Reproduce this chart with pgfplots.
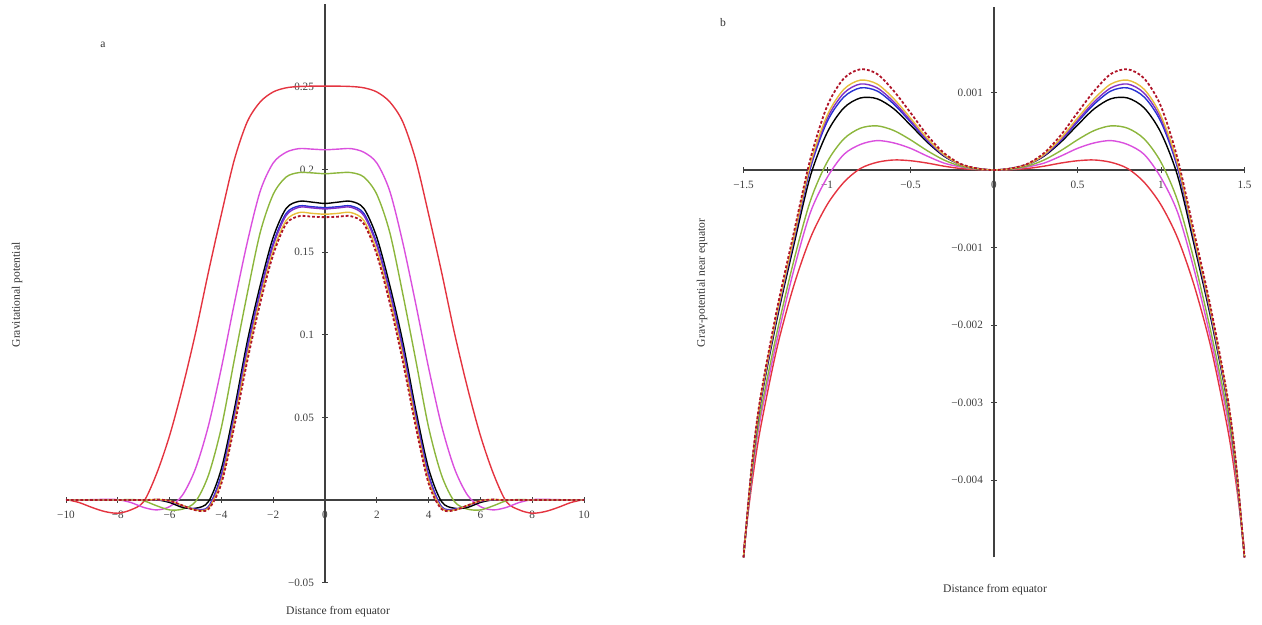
\documentclass[border=0pt]{standalone}
\usepackage{fontspec}
\setmainfont{Liberation Serif}
\usepackage{pgfplots}
\pgfplotsset{compat=1.18}

\definecolor{mred}{RGB}{228,52,64}
\definecolor{mmag}{RGB}{218,80,222}
\definecolor{mgreen}{RGB}{140,182,60}
\definecolor{mblue}{RGB}{40,50,210}
\definecolor{mpurple}{RGB}{128,48,200}
\definecolor{myellow}{RGB}{232,190,60}
\definecolor{mdash}{RGB}{176,20,40}

\pgfplotsset{
  maple/.style={
    scale only axis, axis lines=middle, clip=false,
    axis line style={-, black!75, line width=0.6pt},
    tick style={black!75, line width=0.5pt},
    major tick length=3pt, xtick align=center, ytick align=center,
    hide obscured x ticks=false, hide obscured y ticks=false,
    tick label style={font=\fontsize{5.6}{6}\selectfont, text=black!75},
    xticklabel style={anchor=north, yshift=-0.5pt},
    yticklabel style={anchor=east, xshift=-0.5pt},
    scaled ticks=false,
  },
  crv/.style={line width=0.7pt, smooth, no marks},
}

\begin{document}
\begin{tikzpicture}
\path[use as bounding box] (0,0) rectangle (631pt,312.5pt);

% panel a
\begin{axis}[maple, at={(33pt,21.2pt)}, anchor=south west,
  width=259pt, height=289.1pt,
  xmin=-10, xmax=10, ymin=-0.05, ymax=0.30,
  xtick={-10,-8,...,10}, xticklabels={−10,−8,−6,−4,−2,0,2,4,6,8,10},
  ytick={-0.05,0.05,0.1,0.15,0.2,0.25}, yticklabels={−0.05,0.05,0.1,0.15,0.2,0.25}]
\addplot[crv, mred] coordinates {(-10,.0003)(-9.5,-.0015)(-9,-.0045)(-8.5,-.0070)(-8,-.0080)(-7.5,-.0060)(-7,-.0010)(-6.5,.0160)(-6,.0390)(-5.5,.0680)(-5,.1010)(-4.5,.1380)(-4,.1730)(-3.5,.2060)(-3,.2290)(-2.5,.2410)(-2,.2470)(-1.5,.2495)(-1,.2503)(-0.5,.2505)(0,.2505)(0.5,.2505)(1,.2503)(1.5,.2495)(2,.2470)(2.5,.2410)(3,.2290)(3.5,.2060)(4,.1730)(4.5,.1380)(5,.1010)(5.5,.0680)(6,.0390)(6.5,.0160)(7,-.0010)(7.5,-.0060)(8,-.0080)(8.5,-.0070)(9,-.0045)(9.5,-.0015)(10,.0003)};
\addplot[crv, mmag] coordinates {(-10,0)(-9,.0002)(-8.5,.0004)(-8,.0002)(-7.5,-.0015)(-7,-.0045)(-6.5,-.0060)(-6,-.0040)(-5.5,.0030)(-5,.0190)(-4.5,.0450)(-4,.0800)(-3.5,.1190)(-3,.1560)(-2.5,.1870)(-2,.2040)(-1.5,.2105)(-1,.2127)(-0.5,.2124)(0,.2120)(0.5,.2124)(1,.2127)(1.5,.2105)(2,.2040)(2.5,.1870)(3,.1560)(3.5,.1190)(4,.0800)(4.5,.0450)(5,.0190)(5.5,.0030)(6,-.0040)(6.5,-.0060)(7,-.0045)(7.5,-.0015)(8,.0002)(8.5,.0004)(9,.0002)(10,0)};
\addplot[crv, mgreen] coordinates {(-10,0)(-8,.0001)(-7.5,.0003)(-7,-.0005)(-6.5,-.0035)(-6,-.0060)(-5.5,-.0055)(-5,-.0010)(-4.5,.0150)(-4,.0440)(-3.5,.0850)(-3,.1250)(-2.5,.1620)(-2,.1850)(-1.5,.1955)(-1,.1982)(-0.5,.1980)(0,.1975)(0.5,.1980)(1,.1982)(1.5,.1955)(2,.1850)(2.5,.1620)(3,.1250)(3.5,.0850)(4,.0440)(4.5,.0150)(5,-.0010)(5.5,-.0055)(6,-.0060)(6.5,-.0035)(7,-.0005)(7.5,.0003)(8,.0001)(10,0)};
\addplot[crv, black] coordinates {(-10,0)(-7,0)(-6.5,.0001)(-6,-.0015)(-5.5,-.0045)(-5,-.0050)(-4.5,-.0010)(-4,.0190)(-3.5,.0550)(-3,.0960)(-2.5,.1300)(-2,.1590)(-1.5,.1765)(-1,.1808)(-0.5,.1803)(0,.1795)(0.5,.1803)(1,.1808)(1.5,.1765)(2,.1590)(2.5,.1300)(3,.0960)(3.5,.0550)(4,.0190)(4.5,-.0010)(5,-.0050)(5.5,-.0045)(6,-.0015)(6.5,.0001)(7,0)(10,0)};
\addplot[crv, mblue] coordinates {(-10,0)(-7,0)(-6.5,.0002)(-6,-.0008)(-5.5,-.0035)(-5,-.0055)(-4.5,-.0040)(-4,.0155)(-3.5,.0515)(-3,.0925)(-2.5,.1265)(-2,.1555)(-1.5,.1735)(-1,.1780)(-0.5,.1775)(0,.1770)(0.5,.1775)(1,.1780)(1.5,.1735)(2,.1555)(2.5,.1265)(3,.0925)(3.5,.0515)(4,.0155)(4.5,-.0040)(5,-.0055)(5.5,-.0035)(6,-.0008)(6.5,.0002)(7,0)(10,0)};
\addplot[crv, mpurple] coordinates {(-10,0)(-7,0)(-6.5,.0002)(-6,-.0006)(-5.5,-.0035)(-5,-.0058)(-4.5,-.0045)(-4,.0138)(-3.5,.0498)(-3,.0905)(-2.5,.1250)(-2,.1540)(-1.5,.1722)(-1,.1772)(-0.5,.1768)(0,.1762)(0.5,.1768)(1,.1772)(1.5,.1722)(2,.1540)(2.5,.1250)(3,.0905)(3.5,.0498)(4,.0138)(4.5,-.0045)(5,-.0058)(5.5,-.0035)(6,-.0006)(6.5,.0002)(7,0)(10,0)};
\addplot[crv, myellow] coordinates {(-10,0)(-7,0)(-6.5,.0003)(-6,-.0005)(-5.5,-.0033)(-5,-.0060)(-4.5,-.0050)(-4,.0117)(-3.5,.0472)(-3,.0872)(-2.5,.1218)(-2,.1508)(-1.5,.1692)(-1,.1740)(-0.5,.1735)(0,.1730)(0.5,.1735)(1,.1740)(1.5,.1692)(2,.1508)(2.5,.1218)(3,.0872)(3.5,.0472)(4,.0117)(4.5,-.0050)(5,-.0060)(5.5,-.0033)(6,-.0005)(6.5,.0003)(7,0)(10,0)};
\addplot[crv, mdash, line width=0.9pt, dash pattern=on 1.4pt off 1pt] coordinates {(-10,0)(-7,0)(-6.5,.0003)(-6,-.0005)(-5.5,-.0033)(-5,-.0062)(-4.5,-.0055)(-4,.0100)(-3.5,.0447)(-3,.0842)(-2.5,.1192)(-2,.1485)(-1.5,.1672)(-1,.1718)(-0.5,.1715)(0,.1712)(0.5,.1715)(1,.1718)(1.5,.1672)(2,.1485)(2.5,.1192)(3,.0842)(3.5,.0447)(4,.0100)(4.5,-.0055)(5,-.0062)(5.5,-.0033)(6,-.0005)(6.5,.0003)(7,0)(10,0)};
\end{axis}

% panel b
\begin{axis}[maple, at={(371.75pt,33.75pt)}, anchor=south west,
  width=250.5pt, height=275.1pt,
  xmin=-1.5, xmax=1.5, ymin=-0.005, ymax=0.0021,
  xtick={-1.5,-1,...,1.5}, xticklabels={−1.5,−1,−0.5,0,0.5,1,1.5},
  ytick={-0.004,-0.003,-0.002,-0.001,0.001}, yticklabels={−0.004,−0.003,−0.002,−0.001,0.001}]
\addplot[crv, mred] coordinates {(-1.5,-.00490)(-1.45,-.00405)(-1.4,-.00335)(-1.3,-.00230)(-1.2,-.00150)(-1.1,-.00088)(-1,-.00045)(-0.9,-.00016)(-0.8,.00002)(-0.7,.00010)(-0.6,.00013)(-0.5,.00012)(-0.4,.00009)(-0.3,.00005)(-0.2,.00002)(-0.1,.000005)(0,0)(0.1,.000005)(0.2,.00002)(0.3,.00005)(0.4,.00009)(0.5,.00012)(0.6,.00013)(0.7,.00010)(0.8,.00002)(0.9,-.00016)(1,-.00045)(1.1,-.00088)(1.2,-.00150)(1.3,-.00230)(1.4,-.00335)(1.45,-.00405)(1.5,-.00490)};
\addplot[crv, mmag] coordinates {(-1.5,-.00500)(-1.45,-.00396)(-1.4,-.00322)(-1.3,-.00220)(-1.2,-.00130)(-1.1,-.00055)(-1,-.00010)(-0.9,.00020)(-0.8,.00033)(-0.7,.00038)(-0.6,.00035)(-0.5,.00028)(-0.4,.00018)(-0.3,.00009)(-0.2,.00004)(-0.1,.00001)(0,0)(0.1,.00001)(0.2,.00004)(0.3,.00009)(0.4,.00018)(0.5,.00028)(0.6,.00035)(0.7,.00038)(0.8,.00033)(0.9,.00020)(1,-.00010)(1.1,-.00055)(1.2,-.00130)(1.3,-.00220)(1.4,-.00322)(1.45,-.00396)(1.5,-.00500)};
\addplot[crv, mgreen] coordinates {(-1.5,-.00500)(-1.45,-.00392)(-1.4,-.00315)(-1.3,-.00210)(-1.2,-.00118)(-1.1,-.00040)(-1,.00010)(-0.9,.00040)(-0.8,.00054)(-0.7,.00057)(-0.6,.00051)(-0.5,.00039)(-0.4,.00025)(-0.3,.00013)(-0.2,.00005)(-0.1,.00001)(0,0)(0.1,.00001)(0.2,.00005)(0.3,.00013)(0.4,.00025)(0.5,.00039)(0.6,.00051)(0.7,.00057)(0.8,.00054)(0.9,.00040)(1,.00010)(1.1,-.00040)(1.2,-.00118)(1.3,-.00210)(1.4,-.00315)(1.45,-.00392)(1.5,-.00500)};
\addplot[crv, black] coordinates {(-1.5,-.00500)(-1.45,-.00385)(-1.4,-.00303)(-1.3,-.00193)(-1.2,-.00098)(-1.1,-.00008)(-1,.00048)(-0.9,.00080)(-0.8,.00093)(-0.7,.00092)(-0.6,.00079)(-0.5,.00058)(-0.4,.00036)(-0.3,.00018)(-0.2,.00007)(-0.1,.00002)(0,0)(0.1,.00002)(0.2,.00007)(0.3,.00018)(0.4,.00036)(0.5,.00058)(0.6,.00079)(0.7,.00092)(0.8,.00093)(0.9,.00080)(1,.00048)(1.1,-.00008)(1.2,-.00098)(1.3,-.00193)(1.4,-.00303)(1.45,-.00385)(1.5,-.00500)};
\addplot[crv, mblue] coordinates {(-1.5,-.00500)(-1.45,-.00384)(-1.4,-.00301)(-1.3,-.00189)(-1.2,-.00092)(-1.1,.00002)(-1,.00062)(-0.9,.00094)(-0.8,.00106)(-0.7,.00102)(-0.6,.00085)(-0.5,.00062)(-0.4,.00038)(-0.3,.00019)(-0.2,.00007)(-0.1,.00002)(0,0)(0.1,.00002)(0.2,.00007)(0.3,.00019)(0.4,.00038)(0.5,.00062)(0.6,.00085)(0.7,.00102)(0.8,.00106)(0.9,.00094)(1,.00062)(1.1,.00002)(1.2,-.00092)(1.3,-.00189)(1.4,-.00301)(1.45,-.00384)(1.5,-.00500)};
\addplot[crv, mpurple] coordinates {(-1.5,-.00500)(-1.45,-.00383)(-1.4,-.00300)(-1.3,-.00187)(-1.2,-.00090)(-1.1,.00005)(-1,.00066)(-0.9,.00099)(-0.8,.00111)(-0.7,.00106)(-0.6,.00088)(-0.5,.00064)(-0.4,.00039)(-0.3,.00019)(-0.2,.00007)(-0.1,.00002)(0,0)(0.1,.00002)(0.2,.00007)(0.3,.00019)(0.4,.00039)(0.5,.00064)(0.6,.00088)(0.7,.00106)(0.8,.00111)(0.9,.00099)(1,.00066)(1.1,.00005)(1.2,-.00090)(1.3,-.00187)(1.4,-.00300)(1.45,-.00383)(1.5,-.00500)};
\addplot[crv, myellow] coordinates {(-1.5,-.00500)(-1.45,-.00382)(-1.4,-.00298)(-1.3,-.00185)(-1.2,-.00088)(-1.1,.00008)(-1,.00070)(-0.9,.00104)(-0.8,.00116)(-0.7,.00111)(-0.6,.00092)(-0.5,.00067)(-0.4,.00041)(-0.3,.00020)(-0.2,.00007)(-0.1,.00002)(0,0)(0.1,.00002)(0.2,.00007)(0.3,.00020)(0.4,.00041)(0.5,.00067)(0.6,.00092)(0.7,.00111)(0.8,.00116)(0.9,.00104)(1,.00070)(1.1,.00008)(1.2,-.00088)(1.3,-.00185)(1.4,-.00298)(1.45,-.00382)(1.5,-.00500)};
\addplot[crv, mdash, line width=0.9pt, dash pattern=on 1.4pt off 1pt] coordinates {(-1.5,-.00500)(-1.45,-.00380)(-1.4,-.00295)(-1.3,-.00180)(-1.2,-.00082)(-1.1,.00014)(-1,.00082)(-0.9,.00118)(-0.8,.00130)(-0.7,.00124)(-0.6,.00102)(-0.5,.00074)(-0.4,.00045)(-0.3,.00022)(-0.2,.00008)(-0.1,.00002)(0,0)(0.1,.00002)(0.2,.00008)(0.3,.00022)(0.4,.00045)(0.5,.00074)(0.6,.00102)(0.7,.00124)(0.8,.00130)(0.9,.00118)(1,.00082)(1.1,.00014)(1.2,-.00082)(1.3,-.00180)(1.4,-.00295)(1.45,-.00380)(1.5,-.00500)};
\end{axis}

% titles and axis names, placed in image pixels
\begin{scope}[x=0.5pt, y=-0.5pt, shift={(0,312.5pt)},
  every node/.style={font=\fontsize{5.8}{7}\selectfont, text=black!80}]
\node at (103,45) {a};
\node at (723,23) {b};
\node at (338,612) {Distance from equator};
\node at (995,590) {Distance from equator};
\node[rotate=90] at (17,295) {Gravitational potential};
\node[rotate=90] at (702,283) {Grav-potential near equator};
\end{scope}
\end{tikzpicture}
\end{document}
